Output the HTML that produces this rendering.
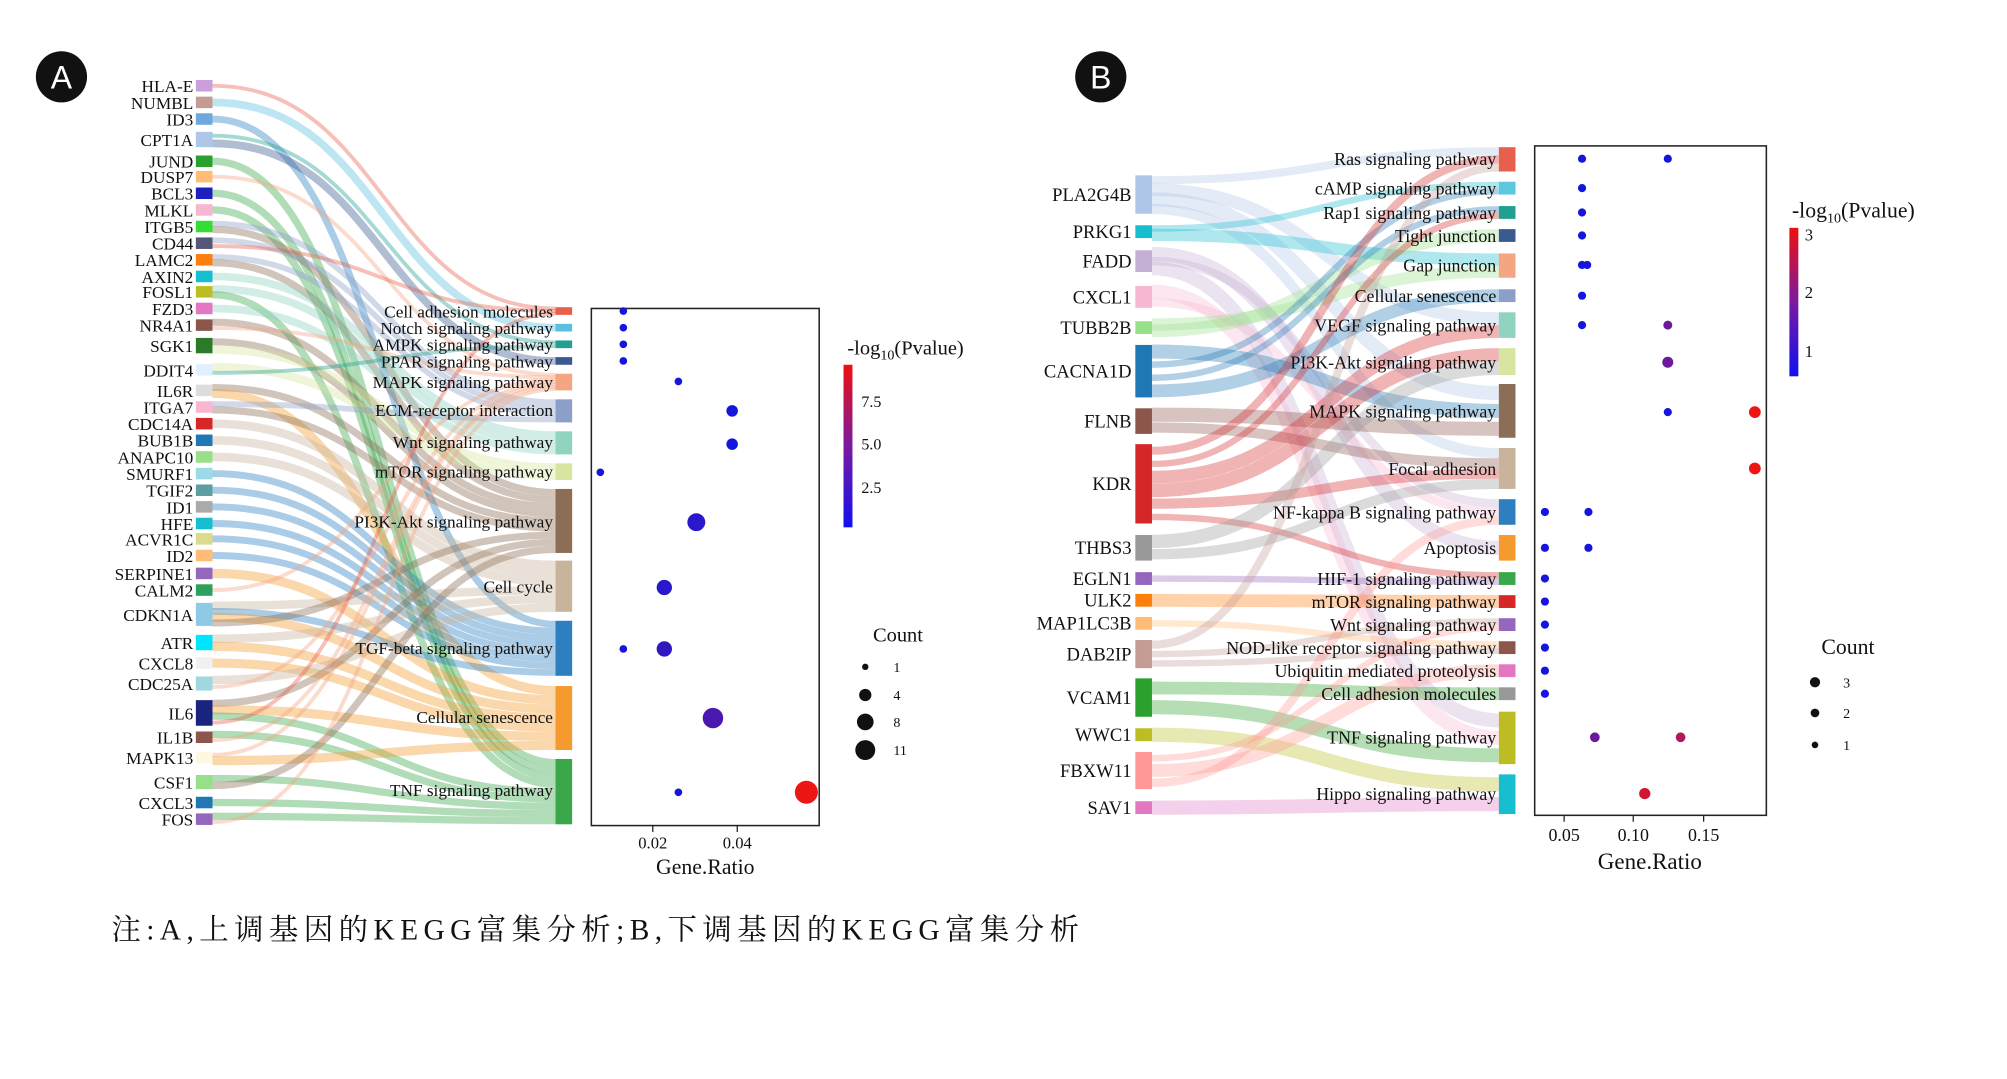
<!DOCTYPE html>
<html><head><meta charset="utf-8"><style>
html,body{margin:0;padding:0;background:#fff;width:2007px;height:1079px;overflow:hidden}
svg text{font-family:"Liberation Serif","Noto Serif CJK SC",serif;fill:#111}
.g{font-size:13.5px;text-anchor:end}
.p{font-size:13.5px;text-anchor:end}
.t{font-size:13px;text-anchor:middle}
</style></head><body>
<svg id="s" width="2007" height="1079" viewBox="0 0 1568 843" xmlns="http://www.w3.org/2000/svg">
<g id="flows"></g><g id="boxes"></g>
<circle cx="48" cy="60" r="20" fill="#111"/><text x="48" y="69" style="font-family:'Liberation Sans',sans-serif;font-size:25px;fill:#fff;text-anchor:middle">A</text>
<circle cx="860" cy="60" r="20" fill="#111"/><text x="860" y="69" style="font-family:'Liberation Sans',sans-serif;font-size:25px;fill:#fff;text-anchor:middle">B</text>
<g class="g">
<text x="151" y="72">HLA-E</text><text x="151" y="85">NUMBL</text><text x="151" y="98">ID3</text><text x="151" y="114">CPT1A</text><text x="151" y="131">JUND</text><text x="151" y="143">DUSP7</text><text x="151" y="156">BCL3</text><text x="151" y="169">MLKL</text><text x="151" y="182">ITGB5</text><text x="151" y="195">CD44</text><text x="151" y="208">LAMC2</text><text x="151" y="221">AXIN2</text><text x="151" y="233">FOSL1</text><text x="151" y="246">FZD3</text><text x="151" y="259">NR4A1</text><text x="151" y="275">SGK1</text><text x="151" y="294">DDIT4</text><text x="151" y="310">IL6R</text><text x="151" y="323">ITGA7</text><text x="151" y="336">CDC14A</text><text x="151" y="349">BUB1B</text><text x="151" y="362">ANAPC10</text><text x="151" y="375">SMURF1</text><text x="151" y="388">TGIF2</text><text x="151" y="401">ID1</text><text x="151" y="414">HFE</text><text x="151" y="426">ACVR1C</text><text x="151" y="439">ID2</text><text x="151" y="453">SERPINE1</text><text x="151" y="466">CALM2</text><text x="151" y="485">CDKN1A</text><text x="151" y="507">ATR</text><text x="151" y="523">CXCL8</text><text x="151" y="539">CDC25A</text><text x="151" y="562">IL6</text><text x="151" y="581">IL1B</text><text x="151" y="597">MAPK13</text><text x="151" y="616">CSF1</text><text x="151" y="632">CXCL3</text><text x="151" y="645">FOS</text>
</g>
<g class="p">
<text x="432" y="248">Cell adhesion molecules</text><text x="432" y="261">Notch signaling pathway</text><text x="432" y="274">AMPK signaling pathway</text><text x="432" y="287">PPAR signaling pathway</text><text x="432" y="303">MAPK signaling pathway</text><text x="432" y="325">ECM-receptor interaction</text><text x="432" y="350">Wnt signaling pathway</text><text x="432" y="373">mTOR signaling pathway</text><text x="432" y="412">PI3K-Akt signaling pathway</text><text x="432" y="463">Cell cycle</text><text x="432" y="511">TGF-beta signaling pathway</text><text x="432" y="565">Cellular senescence</text><text x="432" y="622">TNF signaling pathway</text>
</g>
<g class="g" style="font-size:14.5px">
<text x="884" y="157">PLA2G4B</text><text x="884" y="186">PRKG1</text><text x="884" y="209">FADD</text><text x="884" y="237">CXCL1</text><text x="884" y="261">TUBB2B</text><text x="884" y="295">CACNA1D</text><text x="884" y="334">FLNB</text><text x="884" y="383">KDR</text><text x="884" y="433">THBS3</text><text x="884" y="457">EGLN1</text><text x="884" y="474">ULK2</text><text x="884" y="492">MAP1LC3B</text><text x="884" y="516">DAB2IP</text><text x="884" y="550">VCAM1</text><text x="884" y="579">WWC1</text><text x="884" y="607">FBXW11</text><text x="884" y="636">SAV1</text>
</g>
<g class="p" style="font-size:14px">
<text x="1169" y="129">Ras signaling pathway</text><text x="1169" y="152">cAMP signaling pathway</text><text x="1169" y="171">Rap1 signaling pathway</text><text x="1169" y="189">Tight junction</text><text x="1169" y="212">Gap junction</text><text x="1169" y="236">Cellular senescence</text><text x="1169" y="259">VEGF signaling pathway</text><text x="1169" y="288">PI3K-Akt signaling pathway</text><text x="1169" y="326">MAPK signaling pathway</text><text x="1169" y="371">Focal adhesion</text><text x="1169" y="405">NF-kappa B signaling pathway</text><text x="1169" y="433">Apoptosis</text><text x="1169" y="457">HIF-1 signaling pathway</text><text x="1169" y="475">mTOR signaling pathway</text><text x="1169" y="493">Wnt signaling pathway</text><text x="1169" y="511">NOD-like receptor signaling pathway</text><text x="1169" y="529">Ubiquitin mediated proteolysis</text><text x="1169" y="547">Cell adhesion molecules</text><text x="1169" y="581">TNF signaling pathway</text><text x="1169" y="625">Hippo signaling pathway</text>
</g>
<rect x="462" y="241" width="178" height="404" fill="none" stroke="#222" stroke-width="1.2"/>
<line x1="510" y1="645" x2="510" y2="650" stroke="#222"/><line x1="576" y1="645" x2="576" y2="650" stroke="#222"/>
<text class="t" x="510" y="663">0.02</text><text class="t" x="576" y="663">0.04</text>
<text x="551" y="683" style="font-size:17px;text-anchor:middle">Gene.Ratio</text>
<g id="dotsA"></g>
<defs><linearGradient id="cb" x1="0" y1="1" x2="0" y2="0"><stop offset="0" stop-color="#1010ee"/><stop offset="0.5" stop-color="#7a1aa0"/><stop offset="1" stop-color="#ee1010"/></linearGradient></defs>
<rect x="659" y="285" width="7" height="127" fill="url(#cb)"/>
<text x="662" y="277" style="font-size:16px">-log<tspan font-size="11" dy="4">10</tspan><tspan dy="-4">(Pvalue)</tspan></text>
<g style="font-size:12.5px"><text x="673" y="318">7.5</text><text x="673" y="351">5.0</text><text x="673" y="385">2.5</text></g>
<text x="682" y="501" style="font-size:16px">Count</text>
<circle cx="676" cy="521" r="2.5" fill="#111"/><circle cx="676" cy="543" r="4.8" fill="#111"/><circle cx="676" cy="564" r="6.5" fill="#111"/><circle cx="676" cy="586" r="7.8" fill="#111"/>
<g style="font-size:11px"><text x="698" y="525">1</text><text x="698" y="547">4</text><text x="698" y="568">8</text><text x="698" y="590">11</text></g>
<rect x="1199" y="114" width="181" height="523" fill="none" stroke="#222" stroke-width="1.2"/>
<line x1="1222" y1="637" x2="1222" y2="642" stroke="#222"/><line x1="1276" y1="637" x2="1276" y2="642" stroke="#222"/><line x1="1331" y1="637" x2="1331" y2="642" stroke="#222"/>
<g style="font-size:14px;text-anchor:middle"><text x="1222" y="657">0.05</text><text x="1276" y="657">0.10</text><text x="1331" y="657">0.15</text></g>
<text x="1289" y="679" style="font-size:18px;text-anchor:middle">Gene.Ratio</text>
<g id="dotsB"></g>
<rect x="1398" y="178" width="7" height="116" fill="url(#cb)"/>
<text x="1400" y="170" style="font-size:17px">-log<tspan font-size="11" dy="4">10</tspan><tspan dy="-4">(Pvalue)</tspan></text>
<g style="font-size:13px"><text x="1410" y="188">3</text><text x="1410" y="233">2</text><text x="1410" y="279">1</text></g>
<text x="1423" y="511" style="font-size:17px">Count</text>
<circle cx="1418" cy="533" r="4" fill="#111"/><circle cx="1418" cy="557" r="3.4" fill="#111"/><circle cx="1418" cy="582" r="2.6" fill="#111"/>
<g style="font-size:11px"><text x="1440" y="537">3</text><text x="1440" y="561">2</text><text x="1440" y="586">1</text></g>
<text x="87" y="734" textLength="756" lengthAdjust="spacing" style="font-size:23px">注:A,上调基因的KEGG富集分析;B,下调基因的KEGG富集分析</text>
</svg>
<script>
var NS="http://www.w3.org/2000/svg";
function el(p,t,a){var e=document.createElementNS(NS,t);for(var k in a)e.setAttribute(k,a[k]);document.getElementById(p).appendChild(e);return e;}
var gA=[[67,9,"#c9a0dc",[0]],[80,9,"#c49c94",[1]],[93,9,"#6fa8dc",[10]],[109,12,"#aec7e8",[2,3]],[126,9,"#2ca02c",[12]],[138,9,"#ffbb78",[4]],[151,9,"#1f1fbf",[12]],[164,9,"#f7b6d2",[12]],[177,9,"#33dd33",[5,8]],[190,9,"#555577",[5,0]],[203,9,"#ff7f0e",[5,8]],[216,9,"#17becf",[6]],[228,9,"#bcbd22",[6,12]],[241,9,"#e377c2",[6]],[254,9,"#8c564b",[8,4]],[270,12,"#2a7a2a",[8,7]],[289,9,"#e0f0ff",[7,2]],[305,9,"#dddddd",[8,11]],[318,9,"#f7b6d2",[5,8]],[331,9,"#d62728",[9]],[344,9,"#1f77b4",[9]],[357,9,"#98df8a",[9]],[370,9,"#9edae5",[10]],[383,9,"#5f9ea0",[10]],[396,9,"#aaaaaa",[10]],[409,9,"#17becf",[10]],[421,9,"#dbdb8d",[10]],[434,9,"#ffbb78",[10]],[448,9,"#9467bd",[11]],[461,9,"#2ca05c",[4]],[480,18,"#8ecae6",[9,10,11,8]],[502,12,"#00e5ff",[9,11]],[518,9,"#f0f0f0",[11]],[534,11,"#a0d8e0",[9,4]],[557,20,"#1a237e",[8,11,12,0]],[576,9,"#8c564b",[12,4]],[592,9,"#fff8e0",[4,11]],[611,11,"#98df8a",[12,8]],[627,9,"#1f77b4",[12]],[640,9,"#9467bd",[12,4]]];
var pA=[[240,246,"#e8604c"],[253,259,"#5bc0de"],[266,272,"#20a090"],[279,285,"#3a5a90"],[292,305,"#f4a582"],[312,330,"#8c9fc9"],[337,355,"#8fd3c0"],[362,375,"#d6e6a0"],[382,432,"#8c6d56"],[438,478,"#c8b49a"],[485,528,"#2e7fc0"],[536,586,"#f59a2f"],[593,644,"#3aa84a"]];
function sankey(genes,paths,gx,px,pw,byPath,op){
 var cnt=paths.map(function(){return 0}),idx=paths.map(function(){return 0});
 genes.forEach(function(g){g[3].forEach(function(p){cnt[p]++})});
 genes.forEach(function(g){var n=g[3].length;g[3].forEach(function(p,i){
  var gy=g[0]-g[1]/2+g[1]*(i+0.5)/n;var P=paths[p];var h=(P[1]-P[0])/cnt[p];var py=P[0]+h*(idx[p]+0.5);idx[p]++;
  var w=Math.max(3,Math.min(h,11));var m=(gx+px)/2;
  el("flows","path",{d:"M"+gx+" "+gy+" C"+m+" "+gy+" "+m+" "+py+" "+px+" "+py,fill:"none",stroke:byPath?P[2]:g[2],"stroke-width":w,"stroke-opacity":op});
 })});
 genes.forEach(function(g){el("boxes","rect",{x:gx-13,y:g[0]-g[1]/2,width:13,height:g[1],fill:g[2]})});
 paths.forEach(function(P){el("boxes","rect",{x:px,y:P[0],width:pw,height:P[1]-P[0],fill:P[2]})});
}
sankey(gA,pA,166,434,13,true,0.4);
function dot(g,x,y,r,c){el(g,"circle",{cx:x,cy:y,r:r,fill:c})}
var B="#1515dd",Pu="#6a1a9a",R="#ee1515",RP="#b01860";
[[487,243],[487,256],[487,269],[487,282],[530,298],[572,321],[572,347],[469,369],[487,507],[530,619]].forEach(function(d){dot("dotsA",d[0],d[1],d[0]==572?4.5:3,B)});
dot("dotsA",544,408,7,"#2a18cc");dot("dotsA",519,459,6,"#2a18cc");dot("dotsA",519,507,6,"#3018c0");dot("dotsA",557,561,8,"#4a18b0");dot("dotsA",630,619,9,R);
var gB=[[152,30,"#aec7e8",[0,6,8,9]],[181,10,"#17becf",[1,4]],[204,17,"#c5b0d5",[11,10,18]],[232,17,"#f7b6d2",[18,10]],[256,10,"#98df8a",[4,3]],[290,41,"#1f77b4",[8,1,2,5]],[329,20,"#8c564b",[8,9]],[378,62,"#d62728",[0,2,6,7,9,12]],[428,20,"#999999",[7,9]],[452,10,"#9467bd",[12]],[469,10,"#ff7f0e",[13]],[487,10,"#ffbb78",[15]],[511,22,"#c49c94",[0,14,15]],[545,30,"#2ca02c",[17,18]],[574,10,"#bcbd22",[19]],[602,29,"#ff9896",[14,16,10]],[631,10,"#e377c2",[19]]];
var pB=[[115,134,"#e8604c"],[142,152,"#5bc8e0"],[161,171,"#20a090"],[179,189,"#3a5a90"],[198,217,"#f4a582"],[226,236,"#8c9fc9"],[244,264,"#8fd3c0"],[272,293,"#d6e6a0"],[300,342,"#8c6d56"],[350,382,"#c8b49a"],[390,410,"#2e7fc0"],[418,438,"#f59a2f"],[447,457,"#3aa84a"],[465,475,"#d62728"],[483,493,"#9467bd"],[501,511,"#8c564b"],[519,529,"#e377c2"],[537,547,"#999999"],[556,597,"#bcbd22"],[605,636,"#17becf"]];
sankey(gB,pB,900,1171,13,false,0.35);
[[1236,124],[1303,124],[1236,147],[1236,166],[1236,184],[1236,207],[1240,207],[1236,231],[1236,254],[1303,322],[1207,400],[1241,400],[1207,428],[1241,428],[1207,452],[1207,470],[1207,488],[1207,506],[1207,524],[1207,542]].forEach(function(d){dot("dotsB",d[0],d[1],3.2,B)});
dot("dotsB",1303,254,3.5,Pu);dot("dotsB",1303,283,4.3,Pu);dot("dotsB",1371,322,4.6,R);dot("dotsB",1371,366,4.6,R);dot("dotsB",1246,576,3.8,Pu);dot("dotsB",1313,576,3.8,RP);dot("dotsB",1285,620,4.4,"#d01530");
</script>
</body></html>
